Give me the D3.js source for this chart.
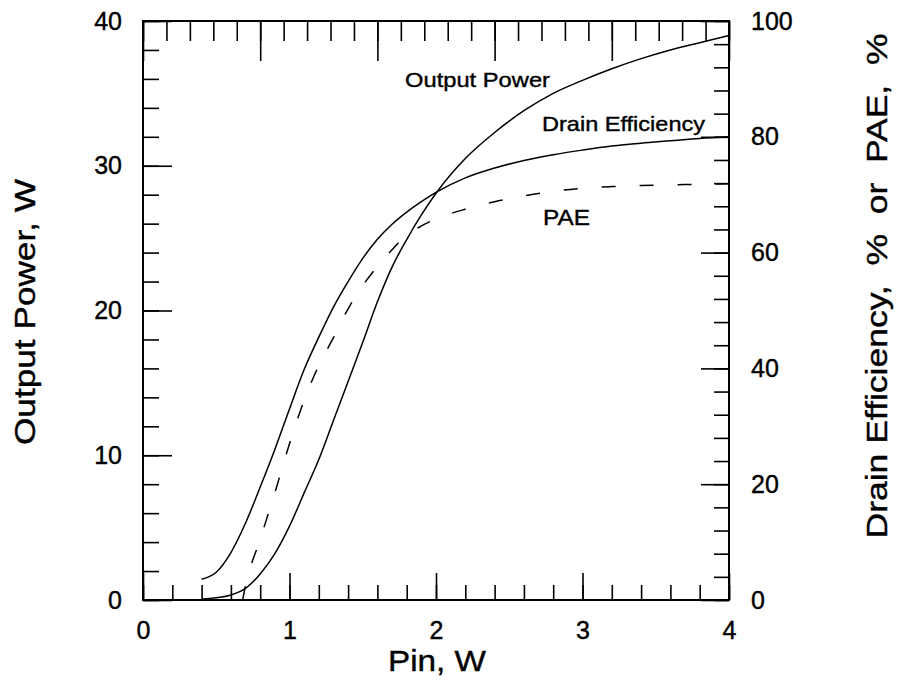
<!DOCTYPE html>
<html>
<head>
<meta charset="utf-8">
<script src="https://cdn.jsdelivr.net/npm/d3@7"></script>
<style>
  body { margin: 0; background: #fff; }
  svg text { font-family: "Liberation Sans", Arial, sans-serif; fill: #000; stroke: #000; stroke-width: 0.4px; }
</style>
</head>
<body>
<div id="chart"></div>
<script>
// DATA
// ------------------------------------------------------------------
const pinOut = [0.4, 0.5, 0.6, 0.7, 0.8, 0.9, 1.0, 1.1, 1.2, 1.3, 1.4, 1.5, 1.6, 1.7, 1.8, 1.9, 2.0, 2.2, 2.4, 2.6, 2.8, 3.0, 3.2, 3.4, 3.6, 3.8, 4.0];
const outputPower = [0.05, 0.15, 0.35, 0.8, 1.8, 3.2, 5.1, 7.4, 9.7, 12.4, 15.1, 17.8, 20.6, 23.0, 24.9, 26.6, 28.1, 30.5, 32.3, 33.8, 35.0, 35.9, 36.7, 37.4, 38.0, 38.5, 39.0];

const pinDE = [0.4, 0.5, 0.6, 0.7, 0.8, 0.9, 1.0, 1.1, 1.2, 1.3, 1.4, 1.5, 1.6, 1.7, 1.8, 1.9, 2.0, 2.2, 2.4, 2.6, 2.8, 3.0, 3.2, 3.4, 3.6, 3.8, 4.0];
const drainEff = [3.6, 4.8, 8.2, 13.3, 19.5, 26.0, 33.0, 39.8, 45.4, 50.6, 55.0, 59.0, 62.3, 64.9, 67.0, 68.8, 70.4, 72.9, 74.6, 75.9, 76.9, 77.7, 78.4, 78.9, 79.3, 79.7, 80.0];

const pinPAE = [0.68, 0.7, 0.8, 0.9, 1.0, 1.1, 1.2, 1.3, 1.4, 1.5, 1.6, 1.7, 1.8, 1.9, 2.0, 2.2, 2.4, 2.6, 2.8, 3.0, 3.2, 3.4, 3.6, 3.8, 4.0];
const pae = [0.0, 2.5, 10.5, 18.5, 27.0, 34.5, 40.5, 45.3, 50.3, 54.3, 57.6, 60.5, 63.0, 64.6, 65.8, 67.5, 68.8, 69.8, 70.6, 71.1, 71.4, 71.6, 71.7, 71.8, 71.9];

const xTicks = [0, 1, 2, 3, 4];
const yLeftTicks = [0, 10, 20, 30, 40];
const yRightTicks = [0, 20, 40, 60, 80, 100];
const seriesLabels = ["Output Power", "Drain Efficiency", "PAE"];

// SCALES
// ------------------------------------------------------------------
const W = 897, H = 687;
const plot = { left: 143, right: 729, top: 21, bottom: 600 };

const x = d3.scaleLinear([0, 4], [plot.left, plot.right]);
const yL = d3.scaleLinear([0, 40], [plot.bottom, plot.top]);
const yR = d3.scaleLinear([0, 100], [plot.bottom, plot.top]);
// top edge has its own 25-step tick scale
const xTop = d3.scaleLinear([0, 25], [plot.left, plot.right]);

const svg = d3.select("#chart").append("svg")
  .attr("width", W)
  .attr("height", H);

// AXES (ticks point inward)
// ------------------------------------------------------------------
function minorOf(lo, hi, step) {
  return d3.range(Math.round((hi - lo) / step) + 1).map(i => lo + i * step);
}

// bottom
svg.append("g").attr("class", "axis")
  .attr("transform", `translate(0,${plot.bottom})`)
  .call(d3.axisBottom(x).tickValues(minorOf(0, 4, 0.2)).tickSize(-15).tickFormat(""));
svg.append("g").attr("class", "axis")
  .attr("transform", `translate(0,${plot.bottom})`)
  .call(d3.axisBottom(x).tickValues(xTicks).tickSize(-27).tickPadding(21).tickFormat(d3.format("d")));

// top
svg.append("g").attr("class", "axis")
  .attr("transform", `translate(0,${plot.top})`)
  .call(d3.axisTop(xTop).tickValues(d3.range(0, 26)).tickSize(-20).tickFormat(""));
svg.append("g").attr("class", "axis")
  .attr("transform", `translate(0,${plot.top})`)
  .call(d3.axisTop(xTop).tickValues([0, 5, 10, 15, 20, 25]).tickSize(-40).tickFormat(""));

// left
svg.append("g").attr("class", "axis")
  .attr("transform", `translate(${plot.left},0)`)
  .call(d3.axisLeft(yL).tickValues(minorOf(0, 40, 2)).tickSize(-16).tickFormat(""));
svg.append("g").attr("class", "axis")
  .attr("transform", `translate(${plot.left},0)`)
  .call(d3.axisLeft(yL).tickValues(yLeftTicks).tickSize(-29).tickPadding(21).tickFormat(d3.format("d")));

// right
svg.append("g").attr("class", "axis")
  .attr("transform", `translate(${plot.right},0)`)
  .call(d3.axisRight(yR).tickValues(minorOf(0, 100, 4)).tickSize(-15).tickFormat(""));
svg.append("g").attr("class", "axis")
  .attr("transform", `translate(${plot.right},0)`)
  .call(d3.axisRight(yR).tickValues(yRightTicks).tickSize(-28).tickPadding(22).tickFormat(d3.format("d")));

svg.selectAll(".axis .domain").remove();
svg.selectAll(".axis line").attr("stroke", "#000").attr("stroke-width", 1.6);
svg.selectAll(".axis text")
  .attr("font-size", "25px")
  .attr("font-family", "'Liberation Sans', Arial, sans-serif")
  .attr("fill", "#000");

// frame
svg.append("rect")
  .attr("x", plot.left)
  .attr("y", plot.top)
  .attr("width", plot.right - plot.left)
  .attr("height", plot.bottom - plot.top)
  .attr("fill", "none")
  .attr("stroke", "#000")
  .attr("stroke-width", 2);

// CURVES
// ------------------------------------------------------------------
const lineL = d3.line().x(d => x(d[0])).y(d => yL(d[1])).curve(d3.curveMonotoneX);
const lineR = d3.line().x(d => x(d[0])).y(d => yR(d[1])).curve(d3.curveMonotoneX);

svg.append("path")
  .datum(d3.zip(pinOut, outputPower))
  .attr("d", lineL)
  .attr("fill", "none")
  .attr("stroke", "#000")
  .attr("stroke-width", 1.5);

svg.append("path")
  .datum(d3.zip(pinDE, drainEff))
  .attr("d", lineR)
  .attr("fill", "none")
  .attr("stroke", "#000")
  .attr("stroke-width", 1.5);

svg.append("path")
  .datum(d3.zip(pinPAE, pae))
  .attr("d", lineR)
  .attr("fill", "none")
  .attr("stroke", "#000")
  .attr("stroke-width", 1.5)
  .attr("stroke-dasharray", "14,24");

// CURVE LABELS
// ------------------------------------------------------------------
svg.append("text").attr("x", 405).attr("y", 87).attr("font-size", "21px")
  .attr("textLength", 145).attr("lengthAdjust", "spacingAndGlyphs").text(seriesLabels[0]);
svg.append("text").attr("x", 542).attr("y", 131).attr("font-size", "21px")
  .attr("textLength", 163).attr("lengthAdjust", "spacingAndGlyphs").text(seriesLabels[1]);
svg.append("text").attr("x", 543).attr("y", 225).attr("font-size", "22px")
  .attr("textLength", 47).attr("lengthAdjust", "spacingAndGlyphs").text(seriesLabels[2]);

// AXIS TITLES
// ------------------------------------------------------------------
svg.append("text")
  .attr("text-anchor", "middle")
  .attr("x", 437)
  .attr("y", 671)
  .attr("font-size", "29px")
  .attr("textLength", 98)
  .attr("lengthAdjust", "spacingAndGlyphs")
  .text("Pin, W");

svg.append("text")
  .attr("text-anchor", "middle")
  .attr("transform", "translate(35,312) rotate(-90)")
  .attr("font-size", "30px")
  .attr("textLength", 266)
  .attr("lengthAdjust", "spacingAndGlyphs")
  .text("Output Power, W");

svg.append("text")
  .attr("text-anchor", "middle")
  .attr("transform", "translate(887,286) rotate(-90)")
  .attr("font-size", "30px")
  .attr("textLength", 505)
  .attr("lengthAdjust", "spacingAndGlyphs")
  .style("white-space", "pre")
  .text("Drain Efficiency,  %  or  PAE,  %");
</script>
</body>
</html>
